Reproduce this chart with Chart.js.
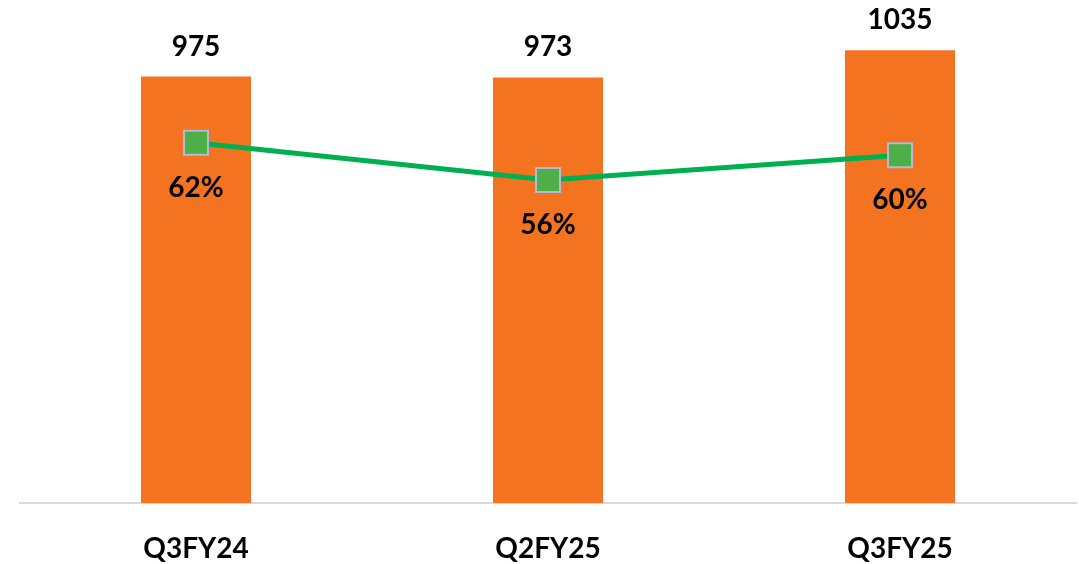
<!DOCTYPE html>
<html>
<head>
<meta charset="utf-8">
<script src="https://cdn.jsdelivr.net/npm/chart.js@4"></script>
<style>
  html, body { margin: 0; padding: 0; background: #fff; }
  #wrap { width: 1079px; height: 564px; }
</style>
</head>
<body>
<div id="wrap"><canvas id="chart" width="1079" height="564"></canvas></div>
<script>
const categories = ["Q3FY24", "Q2FY25", "Q3FY25"];
const volumes = [975, 973, 1035];
const margins = [62, 56, 60];

// draws the numbers above the bars, below the line markers and the category names
const valueLabels = {
  id: "valueLabels",
  afterDatasetsDraw(chart) {
    const ctx = chart.ctx;
    const xScale = chart.scales.x;
    ctx.save();
    ctx.fillStyle = "#000";
    ctx.font = "bold 28px Lato";
    ctx.textAlign = "center";
    ctx.textBaseline = "middle";
    chart.getDatasetMeta(1).data.forEach((bar, i) => {
      ctx.fillText(String(volumes[i]), bar.x, bar.y - 30);
    });
    chart.getDatasetMeta(0).data.forEach((pt, i) => {
      ctx.fillText(margins[i] + "%", pt.x, pt.y + 45);
    });
    categories.forEach((c, i) => {
      ctx.fillText(c, xScale.getPixelForValue(i), chart.chartArea.bottom + 46);
    });
    ctx.restore();
  }
};

new Chart(document.getElementById("chart"), {
  data: {
    labels: categories,
    datasets: [
      {
        type: "line",
        data: margins,
        yAxisID: "y2",
        order: 0,
        borderColor: "#00B050",
        borderWidth: 5,
        pointStyle: "rect",
        pointRadius: 17,
        pointBackgroundColor: "#4EAE48",
        pointBorderColor: "#B4B8D8",
        pointBorderWidth: 2,
        tension: 0,
        clip: false
      },
      {
        type: "bar",
        data: volumes,
        yAxisID: "y",
        order: 1,
        backgroundColor: "#F37321",
        barPercentage: 0.3125,
        categoryPercentage: 1
      }
    ]
  },
  options: {
    responsive: false,
    animation: false,
    layout: { autoPadding: false, padding: { left: 20, right: 3, top: 0, bottom: 61 } },
    plugins: { legend: { display: false }, tooltip: { enabled: false } },
    scales: {
      x: {
        grid: { display: false, drawTicks: false },
        border: { display: true, color: "#D9D9D9", width: 2 },
        ticks: { display: false }
      },
      y: { display: false, min: 0, max: 1150 },
      y2: { display: false, min: 4, max: 85 }
    }
  },
  plugins: [valueLabels]
});
</script>
</body>
</html>
